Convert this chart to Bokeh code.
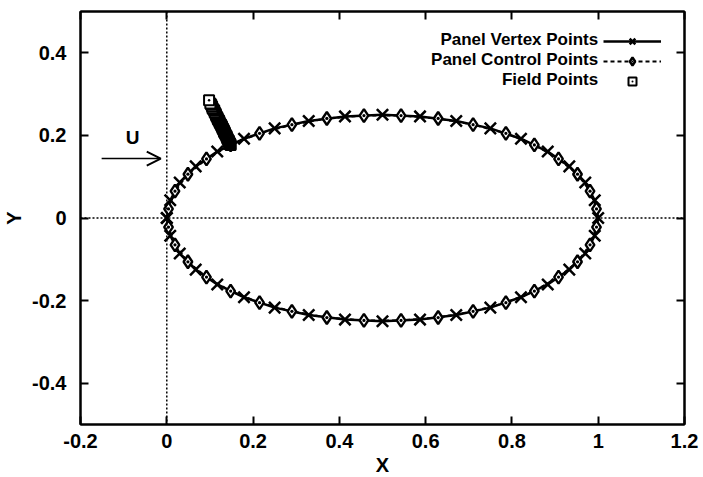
from bokeh.plotting import figure
from bokeh.models import (Range1d, LinearAxis, FixedTicker, Span, Arrow, OpenHead,
                          Label, Legend, LegendItem, CustomLabelingPolicy)
from bokeh.embed import file_html
from bokeh.resources import INLINE

# ---------------- data ----------------
x_ticks = [-0.2, 0.0, 0.2, 0.4, 0.6, 0.8, 1.0, 1.2]
x_tick_labels = ["-0.2", "0", "0.2", "0.4", "0.6", "0.8", "1", "1.2"]
y_ticks = [-0.4, -0.2, 0.0, 0.2, 0.4]
y_tick_labels = ["-0.4", "-0.2", "0", "0.2", "0.4"]

# panel vertex points (closed loop, upper surface then lower surface)
vertex_x = [0.000, 0.008, 0.030, 0.067, 0.117, 0.179, 0.250, 0.329, 0.413, 0.500,
            0.587, 0.671, 0.750, 0.821, 0.883, 0.933, 0.970, 0.992, 1.000,
            0.992, 0.970, 0.933, 0.883, 0.821, 0.750, 0.671, 0.587, 0.500,
            0.413, 0.329, 0.250, 0.179, 0.117, 0.067, 0.030, 0.008, 0.000]
vertex_y = [0.000, 0.043, 0.086, 0.125, 0.161, 0.192, 0.217, 0.235, 0.246, 0.250,
            0.246, 0.235, 0.217, 0.192, 0.161, 0.125, 0.086, 0.043, 0.000,
            -0.043, -0.086, -0.125, -0.161, -0.192, -0.217, -0.235, -0.246, -0.250,
            -0.246, -0.235, -0.217, -0.192, -0.161, -0.125, -0.086, -0.043, 0.000]

# panel control points
control_x = [0.004, 0.019, 0.049, 0.092, 0.148, 0.215, 0.290, 0.371, 0.457,
             0.543, 0.629, 0.710, 0.786, 0.852, 0.908, 0.952, 0.981, 0.996,
             0.996, 0.981, 0.952, 0.908, 0.852, 0.786, 0.710, 0.629, 0.543,
             0.457, 0.371, 0.290, 0.215, 0.148, 0.092, 0.049, 0.019, 0.004]
control_y = [0.022, 0.065, 0.106, 0.143, 0.177, 0.205, 0.226, 0.241, 0.248,
             0.248, 0.241, 0.226, 0.205, 0.177, 0.143, 0.106, 0.065, 0.022,
             -0.022, -0.065, -0.106, -0.143, -0.177, -0.205, -0.226, -0.241, -0.248,
             -0.248, -0.241, -0.226, -0.205, -0.177, -0.143, -0.106, -0.065, -0.022]

# field points (dense band normal to the surface)
field_x = [0.148, 0.147, 0.147, 0.146, 0.145, 0.144, 0.143, 0.143, 0.141, 0.140,
           0.139, 0.138, 0.136, 0.135, 0.134, 0.133, 0.133, 0.132, 0.131, 0.130,
           0.129, 0.128, 0.127, 0.126, 0.125, 0.123, 0.122, 0.121, 0.119, 0.118,
           0.117, 0.115, 0.114, 0.113, 0.111, 0.110, 0.108, 0.106, 0.105, 0.103,
           0.101, 0.098]
field_y = [0.177, 0.178, 0.179, 0.181, 0.183, 0.185, 0.187, 0.188, 0.191, 0.194,
           0.197, 0.199, 0.203, 0.205, 0.207, 0.208, 0.210, 0.212, 0.214, 0.216,
           0.218, 0.221, 0.223, 0.225, 0.227, 0.230, 0.233, 0.236, 0.238, 0.241,
           0.244, 0.247, 0.250, 0.253, 0.256, 0.260, 0.263, 0.266, 0.270, 0.274,
           0.277, 0.285]

series_names = ["Panel Vertex Points", "Panel Control Points", "Field Points"]

# ---------------- figure ----------------
FONT = "Liberation Sans"
p = figure(frame_width=604, frame_height=413,
           x_range=Range1d(-0.2, 1.2), y_range=Range1d(-0.5, 0.5),
           output_backend="svg", toolbar_location=None,
           min_border_left=10, min_border_right=19, min_border_top=11, min_border_bottom=10)
p.grid.visible = False
p.outline_line_color = "black"
p.outline_line_width = 2
p.background_fill_color = "white"
p.border_fill_color = "white"

x_over = {t: s for t, s in zip(x_ticks, x_tick_labels)}
y_over = {t: s for t, s in zip(y_ticks, y_tick_labels)}


def style_axis(ax, show_labels):
    ax.major_tick_in = 8
    ax.major_tick_out = 0
    ax.minor_tick_in = 0
    ax.minor_tick_out = 0
    ax.axis_line_color = "black"
    ax.axis_line_width = 2
    ax.major_tick_line_width = 2
    ax.major_tick_line_color = "black"
    ax.major_label_text_font = FONT
    ax.major_label_text_font_style = "bold"
    ax.major_label_text_color = "black"
    if show_labels:
        ax.major_label_text_font_size = "20px"
        ax.axis_label_text_font = FONT
        ax.axis_label_text_font_style = "bold"
        ax.axis_label_text_font_size = "20px"
        ax.axis_label_text_color = "black"
    else:
        ax.major_label_text_font_size = "0px"
        ax.major_label_policy = CustomLabelingPolicy(code="return new Set()")
        ax.major_label_standoff = 0


p.xaxis.ticker = FixedTicker(ticks=x_ticks, minor_ticks=[])
p.xaxis.major_label_overrides = x_over
p.xaxis.axis_label = "X"
style_axis(p.xaxis[0], True)
p.xaxis.major_label_standoff = 9
p.xaxis.axis_label_standoff = 3

p.yaxis.ticker = FixedTicker(ticks=y_ticks, minor_ticks=[])
p.yaxis.major_label_overrides = y_over
p.yaxis.axis_label = "Y"
style_axis(p.yaxis[0], True)
p.yaxis.major_label_standoff = 14
p.yaxis.axis_label_standoff = 4

top_ax = LinearAxis(ticker=FixedTicker(ticks=x_ticks, minor_ticks=[]))
style_axis(top_ax, False)
p.add_layout(top_ax, "above")
right_ax = LinearAxis(ticker=FixedTicker(ticks=y_ticks, minor_ticks=[]))
style_axis(right_ax, False)
p.add_layout(right_ax, "right")

# zero lines
p.add_layout(Span(location=0, dimension="height", line_color="black",
                  line_width=1.5, line_dash="2 2"))
p.add_layout(Span(location=0, dimension="width", line_color="black",
                  line_width=1.5, line_dash="2 2"))

# series
cx_closed = control_x + control_x[:1]
cy_closed = control_y + control_y[:1]

v_line = p.line(vertex_x, vertex_y, line_color="black", line_width=2.5)
c_line = p.line(cx_closed, cy_closed, line_color="black", line_width=2, line_dash="4 3")
v_pts = p.scatter(vertex_x, vertex_y, marker="x", size=16, line_color="black", line_width=2.5)
c_pts = p.scatter(control_x, control_y, marker="diamond_dot", size=13,
                  line_color="black", fill_color="white", line_width=2.4)
f_pts = p.scatter(field_x, field_y, marker="square_dot", size=10,
                  line_color="black", fill_color="white", line_width=2)

# legend (samples only; labels drawn to the left as in the original)
legend = Legend(items=[
    LegendItem(label=" ", renderers=[v_line, v_pts]),
    LegendItem(label=" ", renderers=[c_line, c_pts]),
    LegendItem(label=" ", renderers=[f_pts]),
], location=(523, 333), orientation="vertical",
    glyph_width=58, glyph_height=20, label_height=20, label_width=1,
    spacing=0, padding=0, margin=0, label_standoff=0,
    background_fill_alpha=0, border_line_alpha=0,
    label_text_font_size="17px")
p.add_layout(legend)

legend_y = [0.432, 0.384, 0.335]
for name, yy in zip(series_names, legend_y):
    p.add_layout(Label(x=1.0, y=yy, text=name, text_align="right",
                       text_baseline="middle", text_font=FONT,
                       text_font_style="bold", text_font_size="17px",
                       text_color="black"))

# free-stream arrow
p.add_layout(Arrow(x_start=-0.151, y_start=0.144, x_end=-0.014, y_end=0.144,
                   line_color="black", line_width=1.5,
                   end=OpenHead(size=14, line_color="black", line_width=2)))
p.add_layout(Label(x=-0.079, y=0.196, text="U", text_align="center",
                   text_baseline="middle", text_font=FONT, text_font_style="bold",
                   text_font_size="19px", text_color="black"))

open("out.html", "w").write(file_html(p, INLINE))
